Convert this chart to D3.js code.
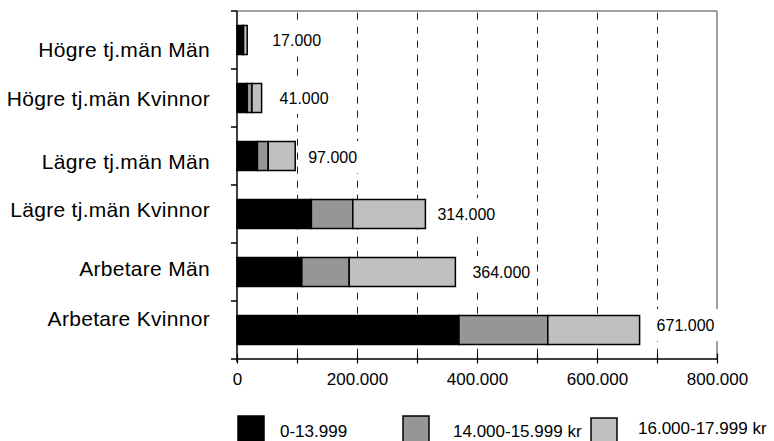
<!DOCTYPE html>
<html>
<head>
<meta charset="utf-8">
<script src="https://cdn.jsdelivr.net/npm/d3@7"></script>
<style>
  html, body { margin: 0; padding: 0; background: #fff; }
  svg { display: block; font-family: "Liberation Sans", Arial, sans-serif; }
</style>
</head>
<body>
<svg id="chart" width="774" height="441"></svg>
<script>
// ---- data ----
const categories = ["Högre tj.män Män", "Högre tj.män Kvinnor", "Lägre tj.män Män",
                    "Lägre tj.män Kvinnor", "Arbetare Män", "Arbetare Kvinnor"];
const seriesNames = ["0-13.999", "14.000-15.999 kr", "16.000-17.999 kr"];
const seriesLow  = [9500, 17000, 34000, 124000, 108000, 370000];
const seriesMid  = [1500, 8000, 18000, 69000, 79000, 148000];
const seriesHigh = [6000, 16000, 45000, 121000, 177000, 153000];
const totals     = [17000, 41000, 97000, 314000, 364000, 671000];
const tickValues = [0, 100000, 200000, 300000, 400000, 500000, 600000, 700000, 800000];
const tickLabelValues = [0, 200000, 400000, 600000, 800000];

// ---- layout (not data) ----
const catLabelNudgeY = [10, 0.5, 5.5, -4.5, -3, -11];
const valLabelNudgeX = [25, 18, 13, 12, 17, 17];
const valLabelNudgeY = [0.5, 0, 1, 0, 0, -5];
const colors = ["#000000", "#969696", "#c0c0c0"];

const svg = d3.select("#chart");
const plotL = 237, plotR = 717, plotT = 11, plotB = 359;

const locale = d3.formatLocale({ decimal: ",", thousands: ".", grouping: [3], currency: ["", " kr"] });
const fmt = locale.format(",d");

const x = d3.scaleLinear().domain([0, 800000]).range([plotL, plotR]);
const y = d3.scaleBand().domain(categories).range([plotT, plotB]).paddingInner(0.5).paddingOuter(0.25);

const table = categories.map((c, i) => ({
  cat: c, s0: seriesLow[i], s1: seriesMid[i], s2: seriesHigh[i], total: totals[i], i
}));
const stack = d3.stack().keys(["s0", "s1", "s2"])(table);

// gridlines
svg.append("g").selectAll("line")
  .data(tickValues.filter(v => v > 0 && v < 800000))
  .join("line")
  .attr("x1", d => Math.round(x(d)) + 0.5).attr("x2", d => Math.round(x(d)) + 0.5)
  .attr("y1", plotT + 1.7).attr("y2", plotB)
  .attr("stroke", "#222").attr("stroke-width", 1)
  .attr("stroke-dasharray", "7,7");

// top & right border
svg.append("line").attr("x1", plotL).attr("x2", plotR).attr("y1", plotT).attr("y2", plotT)
  .attr("stroke", "#808080").attr("stroke-width", 1.5);
svg.append("line").attr("x1", plotR).attr("x2", plotR).attr("y1", plotT).attr("y2", plotB)
  .attr("stroke", "#808080").attr("stroke-width", 1.5);

// bars
const layers = svg.append("g").selectAll("g")
  .data(stack).join("g")
  .attr("fill", (d, i) => colors[i]);
layers.selectAll("rect")
  .data(d => d).join("rect")
  .attr("x", d => x(d[0]))
  .attr("y", d => y(d.data.cat))
  .attr("width", d => x(d[1]) - x(d[0]))
  .attr("height", y.bandwidth())
  .attr("stroke", "#000").attr("stroke-width", 1.5);

// value labels with white boxes
const vl = svg.append("g").selectAll("g").data(table).join("g");
vl.each(function(d) {
  const g = d3.select(this);
  const tx = x(d.total) + valLabelNudgeX[d.i];
  const ty = y(d.cat) + y.bandwidth() / 2 + valLabelNudgeY[d.i];
  const rect = g.append("rect").attr("fill", "#fff");
  const t = g.append("text")
    .attr("x", tx).attr("y", ty).attr("dy", "0.35em")
    .attr("font-size", 16).attr("fill", "#000")
    .text(fmt(d.total));
  const w = t.node().getComputedTextLength();
  rect.attr("x", tx - 2).attr("y", ty - 16).attr("width", w + 8).attr("height", 32);
});

// left axis
svg.append("line").attr("x1", plotL).attr("x2", plotL).attr("y1", plotT).attr("y2", plotB + 3)
  .attr("stroke", "#000").attr("stroke-width", 1.5);
const boundaries = d3.range(categories.length + 1).map(i => plotT + i * y.step());
svg.append("g").selectAll("line").data(boundaries).join("line")
  .attr("x1", plotL - 6).attr("x2", plotL)
  .attr("y1", d => d).attr("y2", d => d)
  .attr("stroke", "#000").attr("stroke-width", 1.5);

// category labels
svg.append("g").selectAll("text").data(categories).join("text")
  .attr("x", 210)
  .attr("y", (d, i) => y(d) + y.bandwidth() / 2 + catLabelNudgeY[i])
  .attr("dy", "0.35em")
  .attr("text-anchor", "end")
  .attr("font-size", 21)
  .attr("letter-spacing", 0.3)
  .attr("fill", "#000")
  .text(d => d);

// bottom axis
const xAxis = d3.axisBottom(x).tickValues(tickValues).tickSize(5).tickSizeOuter(0)
  .tickFormat(d => tickLabelValues.includes(d) ? fmt(d) : "");
const ax = svg.append("g").attr("transform", `translate(0,${plotB - 0.5})`).call(xAxis);
ax.select(".domain").attr("stroke", "#000").attr("stroke-width", 1.5);
ax.selectAll(".tick line").attr("stroke", "#000").attr("stroke-width", 1.2).attr("y1", -5);
ax.selectAll(".tick text").attr("font-size", 17).attr("font-family", "Liberation Sans, Arial, sans-serif")
  .attr("fill", "#000").attr("y", 14).attr("dy", "0.71em");

// legend
const legendPos = [
  { rx: 238, ry: 416, tx: 280, ty: 437 },
  { rx: 403, ry: 416, tx: 453, ty: 437 },
  { rx: 591, ry: 418, tx: 638, ty: 434 }
];
const lg = svg.append("g").selectAll("g").data(seriesNames).join("g");
lg.append("rect")
  .attr("x", (d, i) => legendPos[i].rx).attr("y", (d, i) => legendPos[i].ry)
  .attr("width", 26).attr("height", 26)
  .attr("fill", (d, i) => colors[i]).attr("stroke", "#000").attr("stroke-width", 1.5);
lg.append("text")
  .attr("x", (d, i) => legendPos[i].tx).attr("y", (d, i) => legendPos[i].ty)
  .attr("font-size", 17).attr("fill", "#000")
  .text(d => d);
</script>
</body>
</html>
